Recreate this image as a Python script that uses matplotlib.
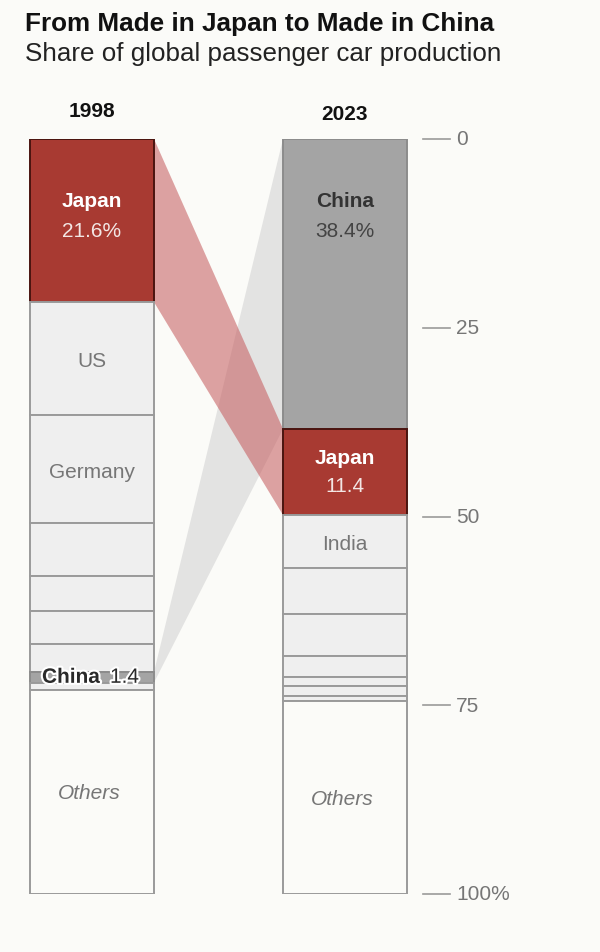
import matplotlib.pyplot as plt
import matplotlib.patheffects as pe
import numpy as np

plt.rcParams['font.family'] = ['Liberation Sans', 'DejaVu Sans']

# shares of global passenger car production, %, top to bottom
names_1998 = ['Japan', 'US', 'Germany', '', '', '', '', 'China', '', 'Others']
vals_1998 = [21.6, 15.0, 14.3, 7.0, 4.6, 4.4, 3.7, 1.4, 1.0, 27.0]
names_2023 = ['China', 'Japan', 'India', '', '', '', '', '', '', 'Others']
vals_2023 = [38.4, 11.4, 7.0, 6.1, 5.6, 2.7, 1.3, 1.3, 0.7, 25.5]
years = ['1998', '2023']
ticks = [0, 25, 50, 75, 100]
tick_labels = ['0', '25', '50', '75', '100%']

BG = '#fbfbf8'
RED = '#a83a32'
RED_EDGE = '#4a1410'
GREY = '#a4a4a4'
LIGHT = '#efefef'
EDGE = '#9a9a9a'
TXT = '#767676'

W, H = 600, 953
fig = plt.figure(figsize=(W / 100, H / 100), dpi=100, facecolor=BG)
# y: 0 at 140 px, 100 at 895 px from top
ax = fig.add_axes([0, (H - 895) / H, 1, 755 / H])
ax.set_facecolor(BG)
ax.set_xlim(0, W)
ax.set_ylim(100, 0)
ax.axis('off')

bar_x = [92, 345]
bar_w = 124


def fill_for(name):
    if name == 'Japan':
        return RED, RED_EDGE
    if name == 'China':
        return GREY, '#8c8c8c'
    if name == 'Others':
        return BG, EDGE
    return LIGHT, EDGE


def draw_bar(x, names, vals):
    tops = np.concatenate([[0], np.cumsum(vals)[:-1]])
    for name, v, t in zip(names, vals, tops):
        fc, ec = fill_for(name)
        ax.bar(x, v, bottom=t, width=bar_w, color=fc, edgecolor=ec,
               linewidth=1.4, zorder=3)
    return tops


tops_98 = draw_bar(bar_x[0], names_1998, vals_1998)
tops_23 = draw_bar(bar_x[1], names_2023, vals_2023)

# ribbons
xl = bar_x[0] + bar_w / 2
xr = bar_x[1] - bar_w / 2
c98 = names_1998.index('China')
c23 = names_2023.index('China')
ax.fill([xl, xl, xr, xr],
        [tops_98[c98], tops_98[c98] + vals_1998[c98],
         tops_23[c23] + vals_2023[c23], tops_23[c23]],
        color='#d9d9d9', alpha=0.7, lw=0, zorder=1)
j98 = names_1998.index('Japan')
j23 = names_2023.index('Japan')
ax.fill([xl, xl, xr, xr],
        [tops_98[j98], tops_98[j98] + vals_1998[j98],
         tops_23[j23] + vals_2023[j23], tops_23[j23]],
        color='#c4585a', alpha=0.55, lw=0, zorder=2)

FS = 15

# labels inside bars
ax.text(bar_x[0], tops_98[j98] + 8.2, 'Japan', color='white', fontsize=FS,
        fontweight='bold', ha='center', va='center', zorder=5)
ax.text(bar_x[0], tops_98[j98] + 12.1, f'{vals_1998[j98]}%', color='#f3e6e4',
        fontsize=FS, ha='center', va='center', zorder=5)
ax.text(bar_x[1], tops_23[c23] + 8.2, 'China', color='#333333', fontsize=FS,
        fontweight='bold', ha='center', va='center', zorder=5)
ax.text(bar_x[1], tops_23[c23] + 12.1, f'{vals_2023[c23]}%', color='#444444',
        fontsize=FS, ha='center', va='center', zorder=5)
ax.text(bar_x[1], tops_23[j23] + 3.8, 'Japan', color='white', fontsize=FS,
        fontweight='bold', ha='center', va='center', zorder=5)
ax.text(bar_x[1], tops_23[j23] + 7.5, f'{vals_2023[j23]}', color='#f3e6e4',
        fontsize=FS, ha='center', va='center', zorder=5)

for x, names, vals, tops in [(bar_x[0], names_1998, vals_1998, tops_98),
                             (bar_x[1], names_2023, vals_2023, tops_23)]:
    for name, v, t in zip(names, vals, tops):
        if name in ('US', 'Germany', 'India'):
            ax.text(x, t + v / 2 + 0.3, name, color=TXT, fontsize=FS,
                    ha='center', va='center', zorder=5)
        elif name == 'Others':
            ax.text(x - 3, t + v / 2 + 0.1, name, color=TXT, fontsize=FS,
                    style='italic', ha='center', va='center', zorder=5)

stroke = [pe.withStroke(linewidth=3, foreground='white')]
yc = tops_98[c98] + vals_1998[c98] / 2
ax.text(42, yc, 'China', color='#2a2a2a', fontsize=FS, fontweight='bold',
        ha='left', va='center', zorder=6, path_effects=stroke)
ax.text(110, yc, f'{vals_1998[c98]}', color='#2a2a2a', fontsize=FS,
        ha='left', va='center', zorder=6, path_effects=stroke)

# axis ticks on the right
for t, lab in zip(ticks, tick_labels):
    ax.plot([423, 450], [t, t], color='#9a9a9a', lw=1.2, zorder=3,
            clip_on=False)
    ax.text(456, t, lab, color=TXT, fontsize=FS, ha='left', va='center',
            clip_on=False)

# year headers
fig.text(bar_x[0] / W, 1 - 117 / H, years[0], fontsize=FS, fontweight='bold',
         ha='center', va='baseline', color='#111111')
fig.text(bar_x[1] / W, 1 - 120 / H, years[1], fontsize=FS, fontweight='bold',
         ha='center', va='baseline', color='#111111')

fig.text(25 / W, 1 - 31.5 / H, 'From Made in Japan to Made in China',
         fontsize=18.8, fontweight='bold', ha='left', va='baseline',
         color='#111111')
fig.text(25 / W, 1 - 61.5 / H, 'Share of global passenger car production',
         fontsize=18.7, ha='left', va='baseline', color='#222222')

fig.savefig('out.png', dpi=100, facecolor=BG)
